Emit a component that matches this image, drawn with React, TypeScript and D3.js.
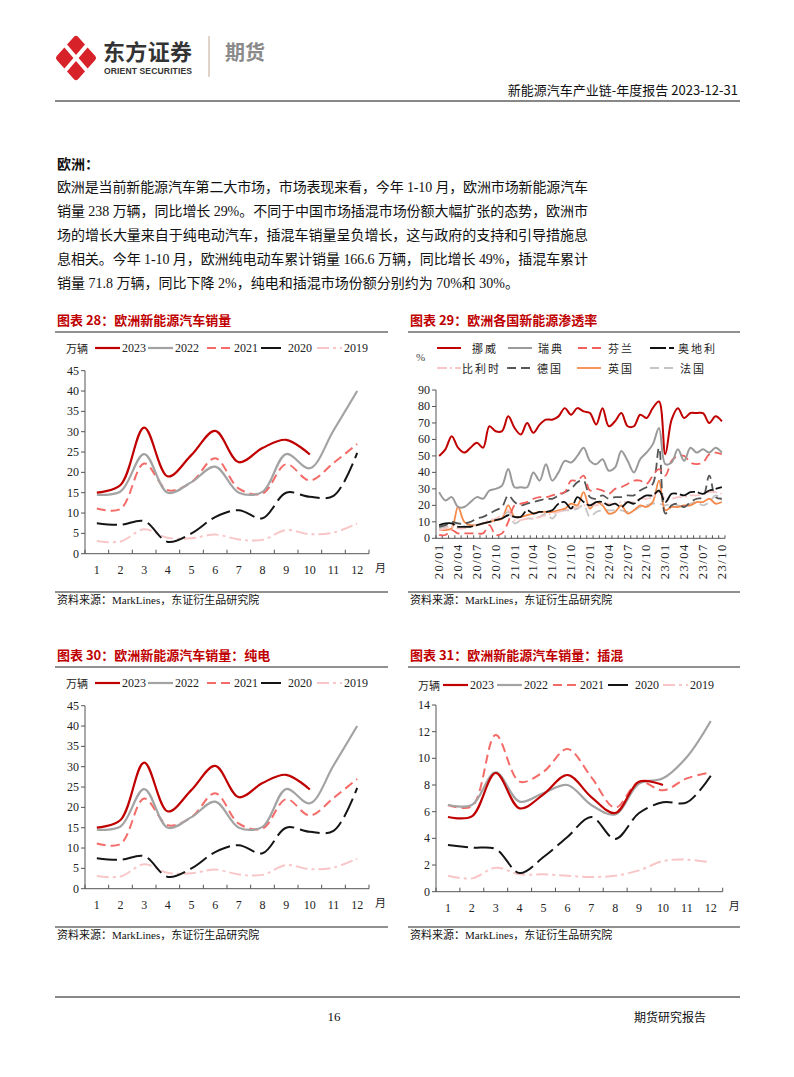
import React from "react";
import * as d3 from "d3";

const SERIF = "'Liberation Serif', 'Times New Roman', 'Noto Sans CJK SC', serif";
const CJK = "'Noto Sans CJK SC', sans-serif";

// ---- 欧洲新能源汽车月度销量（万辆）----
const months = ["1", "2", "3", "4", "5", "6", "7", "8", "9", "10", "11", "12"];
const yearNames = ["2023", "2022", "2021", "2020", "2019"];

const total2023 = [15, 16.9, 31, 19, 24.3, 30.2, 22.5, 26, 28, 24.4];
const total2022 = [14.5, 15.3, 24.5, 15, 17.6, 21.4, 15, 15.2, 24.5, 21, 30.3, 40];
const total2021 = [11.1, 11, 22.2, 15.6, 17.6, 23.5, 16, 14.8, 22, 18, 22.3, 27];
const total2020 = [7.5, 7.1, 8, 2.9, 5, 9, 10.7, 8.7, 15, 14, 14.2, 24.8];
const total2019 = [3.1, 3, 6, 3.9, 3.8, 4.7, 3.5, 3.4, 5.8, 4.8, 5.2, 7.4];

// 纯电 chart in the source repeats the same figures
const bev2023 = [15, 16.9, 31, 19, 24.3, 30.2, 22.5, 26, 28, 24.4];
const bev2022 = [14.5, 15.3, 24.5, 15, 17.6, 21.4, 15, 15.2, 24.5, 21, 30.3, 40];
const bev2021 = [11.1, 11, 22.2, 15.6, 17.6, 23.5, 16, 14.8, 22, 18, 22.3, 27];
const bev2020 = [7.5, 7.1, 8, 2.9, 5, 9, 10.7, 8.7, 15, 14, 14.2, 24.8];
const bev2019 = [3.1, 3, 6, 3.9, 3.8, 4.7, 3.5, 3.4, 5.8, 4.8, 5.2, 7.4];

const phev2023 = [5.6, 5.65, 8.9, 6.25, 7.3, 8.75, 7.1, 5.9, 8.25, 8.0];
const phev2022 = [6.5, 6.5, 8.95, 6.75, 7.4, 8.0, 6.5, 5.8, 8.1, 8.5, 10.1, 12.8];
const phev2021 = [6.5, 6.4, 11.75, 8.25, 9.0, 10.7, 8.6, 6.3, 8.25, 7.6, 8.5, 8.95];
const phev2020 = [3.5, 3.3, 3.2, 1.4, 2.6, 4.1, 5.6, 3.95, 5.9, 6.7, 6.7, 8.7];
const phev2019 = [1.2, 1.0, 1.8, 1.3, 1.3, 1.2, 1.1, 1.2, 1.6, 2.3, 2.4, 2.2];

// ---- 欧洲各国新能源渗透率（%）----
const penMonths = [
  "20/01", "20/02", "20/03", "20/04", "20/05", "20/06", "20/07", "20/08", "20/09", "20/10", "20/11", "20/12",
  "21/01", "21/02", "21/03", "21/04", "21/05", "21/06", "21/07", "21/08", "21/09", "21/10", "21/11", "21/12",
  "22/01", "22/02", "22/03", "22/04", "22/05", "22/06", "22/07", "22/08", "22/09", "22/10", "22/11", "22/12",
  "23/01", "23/02", "23/03", "23/04", "23/05", "23/06", "23/07", "23/08", "23/09", "23/10",
];
const penTickLabels = ["20/01", "20/04", "20/07", "20/10", "21/01", "21/04", "21/07", "21/10", "22/01", "22/04", "22/07", "22/10", "23/01", "23/04", "23/07", "23/10"];
const countryNames = ["挪威", "瑞典", "芬兰", "奥地利", "比利时", "德国", "英国", "法国"];

const norway = [50, 54, 62, 55, 52, 55, 58, 55, 68, 65, 65, 74, 67, 63, 70, 64, 69, 72, 72, 74, 79, 75, 79, 77, 76, 69, 79, 68, 71, 76, 68, 68, 75, 73, 79, 83, 51, 72, 79, 73, 76, 76, 76, 70, 74, 71];
const sweden = [28, 23, 25, 19, 19, 22, 25, 24, 29, 30, 32, 42, 31, 31, 31, 40, 35, 45, 35, 40, 47, 46, 50, 55, 47, 45, 48, 41, 43, 53, 47, 40, 48, 52, 57, 67, 45, 46, 54, 47, 55, 52, 54, 52, 55, 52];
const finland = [2, 2, 5, 3, 3, 3, 3, 3, 8, 2, 3, 10, 20, 21, 22, 24, 25, 25, 26, 27, 28, 35, 35, 38, 29, 30, 29, 27, 30, 31, 33, 35, 35, 33, 38, 42, 38, 47, 50, 50, 46, 45, 46, 51, 52, 51];
const austria = [8, 9, 9, 7, 7, 7, 8, 9, 10, 11, 12, 14, 13, 13, 17, 15, 16, 16, 17, 21, 22, 18, 25, 22, 20, 22, 22, 20, 21, 19, 22, 21, 24, 26, 26, 29, 22, 27, 27, 26, 28, 28, 27, 29, 30, 31];
const belgium = [5, 6, 7, 6, 6, 7, 8, 9, 11, 12, 14, 17, 11, 11, 12, 12, 13, 14, 15, 16, 17, 18, 19, 20, 20, 20, 21, 21, 21, 22, 22, 22, 24, 24, 25, 28, 24, 24, 25, 25, 26, 26, 27, 28, 28, 27];
const germany = [7, 8, 10, 9, 9, 10, 12, 13, 15, 17, 19, 26, 22, 20, 21, 22, 23, 24, 24, 26, 28, 30, 34, 35, 25, 24, 26, 24, 25, 25, 26, 26, 29, 31, 33, 55, 15, 20, 21, 19, 22, 24, 25, 38, 25, 24];
const uk = [5, 5, 6, 19, 10, 8, 8, 9, 10, 11, 12, 20, 13, 13, 14, 15, 16, 16, 16, 17, 18, 21, 20, 28, 18, 22, 20, 15, 16, 20, 15, 17, 20, 19, 22, 35, 17, 19, 19, 20, 20, 22, 22, 24, 21, 22];
const france = [6, 7, 8, 9, 8, 8, 8, 9, 10, 11, 12, 16, 9, 11, 12, 12, 13, 15, 12, 16, 17, 17, 18, 20, 13, 16, 17, 17, 17, 17, 16, 17, 19, 20, 21, 21, 20, 21, 20, 19, 21, 22, 20, 22, 26, 24];

const paragraph = [
  "欧洲是当前新能源汽车第二大市场，市场表现来看，今年 1-10 月，欧洲市场新能源汽车",
  "销量 238 万辆，同比增长 29%。不同于中国市场插混市场份额大幅扩张的态势，欧洲市",
  "场的增长大量来自于纯电动汽车，插混车销量呈负增长，这与政府的支持和引导措施息",
  "息相关。今年 1-10 月，欧洲纯电动车累计销量 166.6 万辆，同比增长 49%，插混车累计",
  "销量 71.8 万辆，同比下降 2%，纯电和插混市场份额分别约为 70%和 30%。",
];

const yearStyles = [
  { color: "#c00000", width: 2.2, dash: undefined },
  { color: "#a3a3a3", width: 2.2, dash: undefined },
  { color: "#f46b68", width: 2, dash: "9,5" },
  { color: "#151515", width: 2, dash: "20,6" },
  { color: "#f8c6c6", width: 2, dash: "12,4,3,4" },
];

const countryStyles = [
  { color: "#c00000", width: 2, dash: undefined },
  { color: "#9a9a9a", width: 2, dash: undefined },
  { color: "#f2605c", width: 1.8, dash: "9,5" },
  { color: "#111111", width: 1.8, dash: "16,3" },
  { color: "#f8c6c6", width: 1.8, dash: "10,3,2,3" },
  { color: "#555555", width: 1.8, dash: "9,5" },
  { color: "#f5894a", width: 1.8, dash: undefined },
  { color: "#c4c4c4", width: 1.8, dash: "9,5" },
];

const AXIS = "#555";

function ChartFrame({ left, right, titleY, title, sourceY }) {
  return (
    <g>
      <text x={left + 2} y={titleY} fontFamily={CJK} fontSize={13} fontWeight="bold" fill="#c00000">{title}</text>
      <line x1={left} x2={right} y1={titleY + 7} y2={titleY + 7} stroke="#222" strokeWidth={1} />
      <line x1={left} x2={right} y1={sourceY} y2={sourceY} stroke="#222" strokeWidth={1} />
      <text x={left + 2} y={sourceY + 12} fontFamily={SERIF} fontSize={11} fill="#111">资料来源：MarkLines，东证衍生品研究院</text>
    </g>
  );
}

function YearChart({ left, right, titleY, title, series, yMax, yStep, plot, legendY, legendXs, unitX, sourceY }) {
  const x = d3.scaleBand().domain(months).range([plot.left, plot.right]);
  const y = d3.scaleLinear().domain([0, yMax]).range([plot.bottom, plot.top]);
  const cx = (i: number) => (x(months[i]) as number) + x.bandwidth() / 2;
  const line = d3.line<number>().x((_, i) => cx(i)).y((d) => y(d)).curve(d3.curveCatmullRom.alpha(0.5));
  const ticks = d3.range(0, yMax + yStep / 2, yStep);
  const bounds = months.map((m) => x(m) as number).concat([plot.right]);

  return (
    <g>
      <ChartFrame left={left} right={right} titleY={titleY} title={title} sourceY={sourceY} />
      <text x={unitX} y={legendY} dominantBaseline="central" fontFamily={CJK} fontSize={11} fill="#222">万辆</text>
      {yearNames.map((name, i) => (
        <g key={name}>
          <line x1={legendXs[i]} x2={legendXs[i] + 25} y1={legendY} y2={legendY} stroke={yearStyles[i].color} strokeWidth={yearStyles[i].width} strokeDasharray={yearStyles[i].dash} />
          <text x={legendXs[i] + 27} y={legendY} dominantBaseline="central" fontFamily={SERIF} fontSize={12} fill="#222">{name}</text>
        </g>
      ))}
      {ticks.map((t) => (
        <g key={t}>
          <line x1={plot.left - 4} x2={plot.left} y1={y(t)} y2={y(t)} stroke={AXIS} />
          <text x={plot.left - 6} y={y(t)} textAnchor="end" dominantBaseline="central" fontFamily={SERIF} fontSize={12} fill="#222">{t}</text>
        </g>
      ))}
      {bounds.map((b, i) => (
        <line key={i} x1={b} x2={b} y1={plot.bottom} y2={plot.bottom - 4} stroke={AXIS} />
      ))}
      <line x1={plot.left} x2={plot.left} y1={plot.top} y2={plot.bottom} stroke={AXIS} />
      <line x1={plot.left} x2={plot.right} y1={plot.bottom} y2={plot.bottom} stroke={AXIS} />
      {months.map((m, i) => (
        <text key={m} x={cx(i)} y={plot.bottom + 16} textAnchor="middle" dominantBaseline="central" fontFamily={SERIF} fontSize={12} fill="#222">{m}</text>
      ))}
      <text x={plot.right + 6} y={plot.bottom + 13} dominantBaseline="central" fontFamily={CJK} fontSize={11} fill="#222">月</text>
      {series.map((vals, i) => ({ vals, i })).reverse().map(({ vals, i }) => (
        <path key={i} d={line(vals) as string} fill="none" stroke={yearStyles[i].color} strokeWidth={yearStyles[i].width} strokeDasharray={yearStyles[i].dash} />
      ))}
    </g>
  );
}

function PenetrationChart() {
  const plot = { left: 436, right: 725, top: 390, bottom: 538.3 };
  const x = d3.scaleBand().domain(penMonths).range([plot.left, plot.right]);
  const y = d3.scaleLinear().domain([0, 90]).range([plot.bottom, plot.top]);
  const cx = (m: string) => (x(m) as number) + x.bandwidth() / 2;
  const line = d3.line<number>().x((_, i) => cx(penMonths[i])).y((d) => y(d)).curve(d3.curveCatmullRom.alpha(0.5));
  const series = [norway, sweden, finland, austria, belgium, germany, uk, france];
  const legendPos = [
    [437, 472, 348], [508, 538, 348], [578, 608, 348], [650, 678, 348],
    [437, 462, 368], [507, 537, 368], [577, 608, 368], [650, 680, 368],
  ];
  const bounds = penMonths.map((m) => x(m) as number).concat([plot.right]);

  return (
    <g>
      <ChartFrame left={408} right={740} titleY={325} title="图表 29：欧洲各国新能源渗透率" sourceY={592} />
      <text x={416} y={357} dominantBaseline="central" fontFamily={SERIF} fontSize={11} fill="#444">%</text>
      {countryNames.map((name, i) => (
        <g key={name}>
          <line x1={legendPos[i][0]} x2={legendPos[i][0] + 24} y1={legendPos[i][2]} y2={legendPos[i][2]} stroke={countryStyles[i].color} strokeWidth={countryStyles[i].width} strokeDasharray={countryStyles[i].dash} />
          <text x={legendPos[i][1]} y={legendPos[i][2]} dominantBaseline="central" fontFamily={CJK} fontSize={11} letterSpacing={2} fill="#222">{name}</text>
        </g>
      ))}
      {y.ticks(9).map((t) => (
        <g key={t}>
          <line x1={plot.left - 4} x2={plot.left} y1={y(t)} y2={y(t)} stroke={AXIS} />
          <text x={plot.left - 6} y={y(t)} textAnchor="end" dominantBaseline="central" fontFamily={SERIF} fontSize={12} fill="#222">{t}</text>
        </g>
      ))}
      {bounds.map((b, i) => (
        <line key={i} x1={b} x2={b} y1={plot.bottom} y2={plot.bottom - 3} stroke={AXIS} />
      ))}
      <line x1={plot.left} x2={plot.left} y1={plot.top} y2={plot.bottom} stroke={AXIS} />
      <line x1={plot.left} x2={plot.right} y1={plot.bottom} y2={plot.bottom} stroke={AXIS} />
      {penTickLabels.map((m) => (
        <text key={m} transform={`translate(${cx(m)},${plot.bottom + 5}) rotate(-90)`} textAnchor="end" dominantBaseline="central" fontFamily={SERIF} fontSize={12.5} letterSpacing={1.5} fill="#222">{m}</text>
      ))}
      {series.map((vals, i) => ({ vals, i })).reverse().map(({ vals, i }) => (
        <path key={i} d={line(vals) as string} fill="none" stroke={countryStyles[i].color} strokeWidth={countryStyles[i].width} strokeDasharray={countryStyles[i].dash} />
      ))}
    </g>
  );
}

function Header() {
  return (
    <g>
      <polygon points="76,39 93,58 76,77 59,58" fill="#d7222a" stroke="#d7222a" strokeWidth={6} strokeLinejoin="round" />
      <line x1={58} y1={37} x2={94} y2={79} stroke="#fff" strokeWidth={4} />
      <line x1={94} y1={37} x2={58} y2={79} stroke="#fff" strokeWidth={4} />
      <text x={103} y={60} fontFamily={CJK} fontSize={22} fontWeight="bold" fill="#333" textLength={89}>东方证券</text>
      <text x={104} y={74} fontFamily="'Liberation Sans', Arial, sans-serif" fontSize={8.6} fontWeight="bold" fill="#333" textLength={88}>ORIENT SECURITIES</text>
      <line x1={209} x2={209} y1={36} y2={77} stroke="#cbb9a3" strokeWidth={1.2} />
      <text x={225} y={60} fontFamily={CJK} fontSize={20} fontWeight="bold" fill="#8a8a8a">期货</text>
      <text x={738} y={95} textAnchor="end" fontFamily={CJK} fontSize={13} fill="#111">新能源汽车产业链-年度报告 2023-12-31</text>
      <line x1={55} x2={740} y1={101} y2={101} stroke="#111" strokeWidth={1.2} />
    </g>
  );
}

export default function App() {
  const leftPlot = { left: 85, right: 369, top: 370.7, bottom: 553.7 };
  const leftLegend = [95, 148, 207, 261, 317];
  const shift = 335;

  return (
    <svg width={794} height={1077} viewBox="0 0 794 1077" style={{ position: "absolute", left: 0, top: 0, background: "#fff" }}>
      <rect width={794} height={1077} fill="#fff" />
      <Header />

      <text x={57} y={163} dominantBaseline="central" fontFamily={CJK} fontSize={14} fontWeight="bold" fill="#111">欧洲：</text>
      {paragraph.map((t, i) => (
        <text key={i} x={57} y={187 + i * 24} dominantBaseline="central" fontFamily={SERIF} fontSize={14} fill="#111"
          textLength={i < 4 ? 531 : undefined} lengthAdjust="spacing">{t}</text>
      ))}

      <YearChart left={55} right={388} titleY={325} title="图表 28：欧洲新能源汽车销量"
        series={[total2023, total2022, total2021, total2020, total2019]} yMax={45} yStep={5}
        plot={leftPlot} legendY={348} legendXs={leftLegend} unitX={66} sourceY={592} />

      <PenetrationChart />

      <YearChart left={55} right={388} titleY={325 + shift} title="图表 30：欧洲新能源汽车销量：纯电"
        series={[bev2023, bev2022, bev2021, bev2020, bev2019]} yMax={45} yStep={5}
        plot={{ ...leftPlot, top: leftPlot.top + shift, bottom: leftPlot.bottom + shift }}
        legendY={348 + shift} legendXs={leftLegend} unitX={66} sourceY={592 + shift} />

      <YearChart left={408} right={740} titleY={660} title="图表 31：欧洲新能源汽车销量：插混"
        series={[phev2023, phev2022, phev2021, phev2020, phev2019]} yMax={14} yStep={2}
        plot={{ left: 436, right: 722.7, top: 705, bottom: 891.7 }}
        legendY={685} legendXs={[443, 497, 553, 608, 663]} unitX={418} sourceY={927} />

      <line x1={55} x2={740} y1={997} y2={997} stroke="#111" strokeWidth={1.2} />
      <text x={334} y={1016} textAnchor="middle" dominantBaseline="central" fontFamily={SERIF} fontSize={13} fill="#111">16</text>
      <text x={706} y={1016} textAnchor="end" dominantBaseline="central" fontFamily={CJK} fontSize={12} fill="#111">期货研究报告</text>
    </svg>
  );
}
